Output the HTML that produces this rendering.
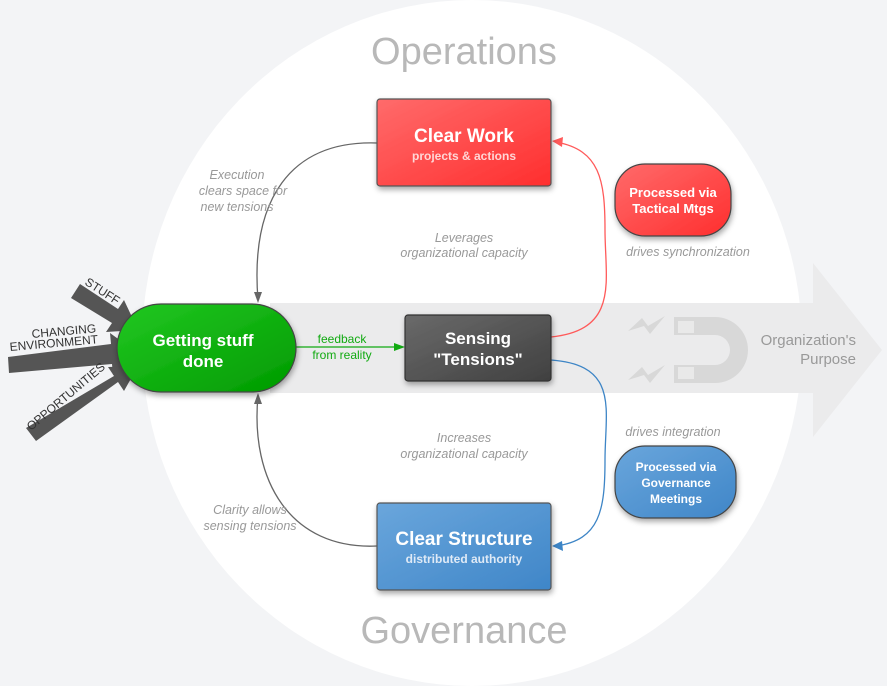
<!DOCTYPE html>
<html><head><meta charset="utf-8"><style>
html,body{margin:0;padding:0;background:#f3f4f6;}
svg{display:block;font-family:"Liberation Sans",sans-serif;}
</style></head><body>
<svg width="887" height="686" viewBox="0 0 887 686" xmlns="http://www.w3.org/2000/svg">
<defs>
<linearGradient id="gr" x1="0" y1="0" x2="1" y2="1"><stop offset="0" stop-color="#ff6b6b"/><stop offset="1" stop-color="#ff2e2e"/></linearGradient>
<linearGradient id="gb" x1="0" y1="0" x2="1" y2="1"><stop offset="0" stop-color="#6aa6dc"/><stop offset="1" stop-color="#3f86c8"/></linearGradient>
<linearGradient id="gg" x1="0" y1="0" x2="1" y2="1"><stop offset="0" stop-color="#22c822"/><stop offset="1" stop-color="#009a00"/></linearGradient>
<linearGradient id="gd" x1="0" y1="0" x2="1" y2="1"><stop offset="0" stop-color="#6a6a6a"/><stop offset="1" stop-color="#404040"/></linearGradient>
<filter id="sh" x="-20%" y="-20%" width="140%" height="150%"><feDropShadow dx="1" dy="3" stdDeviation="3" flood-opacity="0.35"/></filter>
</defs>
<rect width="887" height="686" fill="#f3f4f6"/>
<ellipse cx="472" cy="343" rx="330" ry="343" fill="#fff"/>
<polygon points="270,303 813,303 813,263 882,350 813,437 813,393 270,393" fill="#ebebec"/>
<path d="M674,317 H715 A33,33 0 0 1 715,383 H674 V365 H715 A15,15 0 0 0 715,335 H674 Z" fill="#d8d8d8"/>
<rect x="678" y="321" width="16" height="12" fill="#e9e9e9"/><rect x="678" y="367" width="16" height="12" fill="#e9e9e9"/>
<polygon points="628,331 642,318 648,326 665,316 650,334 644,326" fill="#d8d8d8"/>
<polygon points="628,380 642,367 648,375 665,365 650,383 644,375" fill="#d8d8d8"/>
<text x="856" y="345" font-size="15" fill="#999" text-anchor="end">Organization's</text>
<text x="856" y="364" font-size="15" fill="#999" text-anchor="end">Purpose</text>
<text x="464" y="64" font-size="38" fill="#b8b8b8" text-anchor="middle">Operations</text>
<text x="464" y="643" font-size="38" fill="#b8b8b8" text-anchor="middle">Governance</text>
<g fill="none" stroke-width="1.3">
<path d="M377,143 C290,140 250,200 258,300" stroke="#666"/>
<path d="M377,546 C290,550 250,480 258,396" stroke="#666"/>
<path d="M551,337 C620,330 605,280 605,230 C605,180 600,150 556,142" stroke="#ff5a5a"/>
<path d="M551,360 C620,365 605,410 605,460 C605,510 600,540 556,546" stroke="#3d85c6"/>
<path d="M296,347 H400" stroke="#1a1"/>
</g>
<polygon points="258,303 254,292 262,292" fill="#666"/>
<polygon points="258,393 254,404 262,404" fill="#666"/>
<polygon points="552,141 563,137 562,147" fill="#ff5a5a"/>
<polygon points="552,546 562,541 563,551" fill="#3d85c6"/>
<polygon points="405,347 394,343 394,351" fill="#1a1"/>
<g font-size="12.5" fill="#999" font-style="italic" text-anchor="middle">
<text x="237" y="179">Execution</text><text x="243" y="195">clears space for</text><text x="237" y="211">new tensions</text>
<text x="464" y="242">Leverages</text><text x="464" y="257">organizational capacity</text>
<text x="464" y="442">Increases</text><text x="464" y="458">organizational capacity</text>
<text x="250" y="514">Clarity allows</text><text x="250" y="530">sensing tensions</text>
<text x="688" y="256">drives synchronization</text>
<text x="673" y="436">drives integration</text>
</g>
<text x="342" y="343" font-size="12" fill="#1a1" text-anchor="middle">feedback</text>
<text x="342" y="359" font-size="12" fill="#1a1" text-anchor="middle">from reality</text>
<g fill="#555">
<polygon points="71,298 80,284 118,309 124,300 138,330 106,332 112,323"/>
<polygon points="8,357 9,373 112,364 113,375 136,352 110,333 111,344"/>
<polygon points="26,428 36,441 118,382 124,391 138,366 108,367 114,376"/>
</g>
<g font-size="12" fill="#333">
<text transform="translate(84,284) rotate(33)">STUFF</text>
<text x="32" y="338" transform="rotate(-5 32 338)">CHANGING</text>
<text x="10" y="351" transform="rotate(-5 10 351)">ENVIRONMENT</text>
<text transform="translate(31,431) rotate(-40)">OPPORTUNITIES</text>
</g>
<g filter="url(#sh)">
<rect x="117" y="304" width="179" height="88" rx="44" fill="url(#gg)" stroke="#444" stroke-width="1.2"/>
<rect x="377" y="99" width="174" height="87" rx="3" fill="url(#gr)" stroke="#555" stroke-width="1.2"/>
<rect x="615" y="164" width="116" height="72" rx="30" fill="url(#gr)" stroke="#444" stroke-width="1.2"/>
<rect x="405" y="315" width="146" height="66" rx="3" fill="url(#gd)" stroke="#333" stroke-width="1.2"/>
<rect x="377" y="503" width="174" height="87" rx="3" fill="url(#gb)" stroke="#555" stroke-width="1.2"/>
<rect x="615" y="446" width="121" height="72" rx="30" fill="url(#gb)" stroke="#444" stroke-width="1.2"/>
</g>
<g fill="#fff" font-weight="bold" text-anchor="middle">
<text x="203" y="346" font-size="17">Getting stuff</text><text x="203" y="367" font-size="17">done</text>
<text x="464" y="142" font-size="19">Clear Work</text>
<text x="464" y="160" font-size="12" fill="#ffd6d6">projects &amp; actions</text>
<text x="673" y="197" font-size="13">Processed via</text><text x="673" y="213" font-size="13">Tactical Mtgs</text>
<text x="478" y="344" font-size="17">Sensing</text><text x="478" y="365" font-size="17">"Tensions"</text>
<text x="464" y="545" font-size="19">Clear Structure</text>
<text x="464" y="563" font-size="12" fill="#dfeaf6">distributed authority</text>
<text x="676" y="471" font-size="12">Processed via</text><text x="676" y="487" font-size="12">Governance</text><text x="676" y="503" font-size="12">Meetings</text>
</g>
</svg>
</body></html>
